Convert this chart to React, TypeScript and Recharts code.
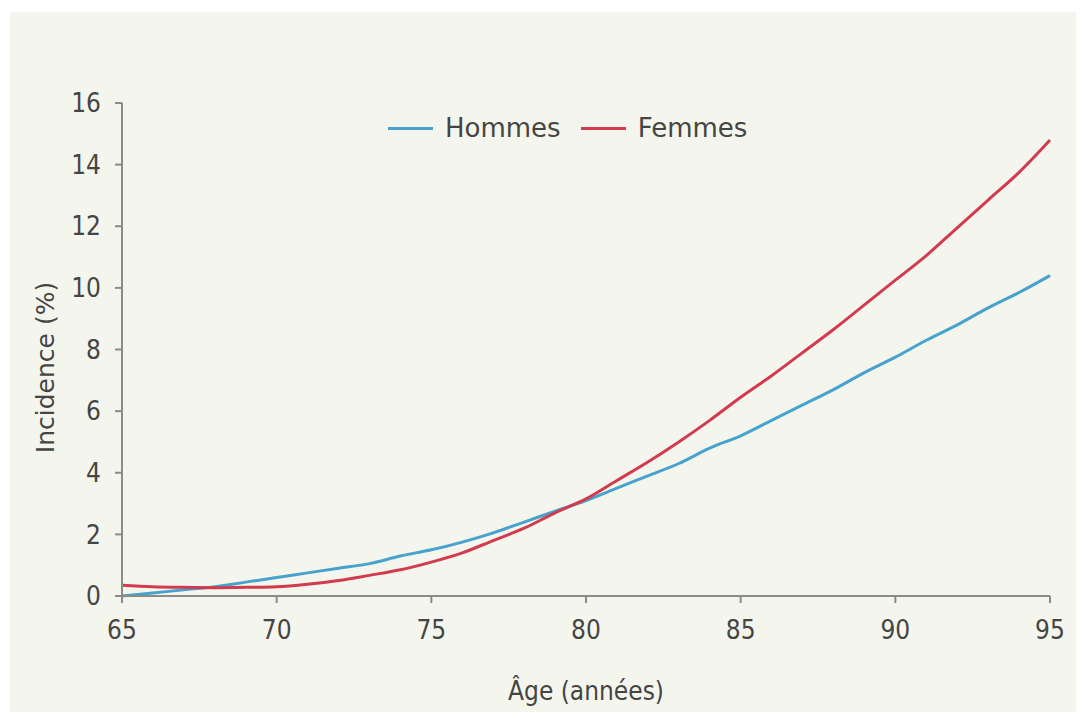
import { LineChart, Line, XAxis, YAxis, Label } from "recharts";

// ─── Data ─────────────────────────────────────────────────────────────────────

const ages = [
  65, 66, 67, 68, 69, 70, 71, 72, 73, 74, 75, 76, 77, 78, 79, 80,
  81, 82, 83, 84, 85, 86, 87, 88, 89, 90, 91, 92, 93, 94, 95,
];

const hommes = [
  0, 0.1, 0.2, 0.3, 0.45, 0.6, 0.75, 0.9, 1.05, 1.3, 1.5, 1.75, 2.05, 2.4, 2.75, 3.1,
  3.5, 3.9, 4.3, 4.8, 5.2, 5.7, 6.2, 6.7, 7.25, 7.75, 8.3, 8.8, 9.35, 9.85, 10.4,
];

const femmes = [
  0.35, 0.3, 0.28, 0.27, 0.28, 0.3, 0.38, 0.5, 0.67, 0.85, 1.1, 1.4, 1.8, 2.2, 2.7, 3.15,
  3.75, 4.35, 5.0, 5.7, 6.45, 7.15, 7.9, 8.65, 9.45, 10.25, 11.05, 11.95, 12.85, 13.75, 14.8,
];

const xTicks = [65, 70, 75, 80, 85, 90, 95];
const yTicks = [0, 2, 4, 6, 8, 10, 12, 14, 16];

const BLUE = "#47a2cd";
const RED = "#d23a4e";
const AXIS = "#8a8c86";
const TEXT = "#454543";
const FONT = "'DejaVu Sans Condensed', 'DejaVu Sans', sans-serif";
const WIDE_FONT = "'DejaVu Sans', sans-serif";

const chartData = ages.map((age, i) => ({
  age,
  hommes: hommes[i],
  femmes: femmes[i],
}));

// ─── Legend ───────────────────────────────────────────────────────────────────

function ChartLegend() {
  const items = [
    { label: "Hommes", color: BLUE },
    { label: "Femmes", color: RED },
  ];
  return (
    <div
      style={{
        position: "absolute",
        left: 388,
        top: 111,
        display: "flex",
        alignItems: "center",
        fontFamily: WIDE_FONT,
        fontSize: 26,
        lineHeight: "34px",
        color: TEXT,
      }}
    >
      {items.map((it) => (
        <div key={it.label} style={{ display: "flex", alignItems: "center", marginRight: 20 }}>
          <span style={{ display: "inline-block", width: 45, height: 3, background: it.color, marginRight: 12 }} />
          <span>{it.label}</span>
        </div>
      ))}
    </div>
  );
}

// ─── Component ────────────────────────────────────────────────────────────────

export default function App() {
  const tickStyle = { fontSize: 26, fill: TEXT, fontFamily: FONT };

  return (
    <div style={{ position: "fixed", left: 0, top: 0, width: 1084, height: 718, background: "#ffffff" }}>
      <div
        style={{
          position: "absolute",
          left: 10,
          top: 12,
          width: 1066,
          height: 700,
          background: "#f4f6ee",
        }}
      />
      <div style={{ position: "absolute", left: 0, top: 0 }}>
        <LineChart
          width={1084}
          height={718}
          data={chartData}
          margin={{ top: 103, right: 34, left: 62, bottom: 18 }}
        >
          <XAxis
            dataKey="age"
            type="number"
            domain={[65, 95]}
            ticks={xTicks}
            stroke={AXIS}
            strokeWidth={2}
            tickSize={7}
            tickMargin={18}
            tick={tickStyle}
            height={104}
          >
            <Label
              value="Âge (années)"
              position="insideBottom"
              offset={0}
              style={{ fontSize: 26, fill: TEXT, fontFamily: FONT }}
            />
          </XAxis>
          <YAxis
            domain={[0, 16]}
            ticks={yTicks}
            stroke={AXIS}
            strokeWidth={2}
            tickSize={7}
            tickMargin={14}
            tick={tickStyle}
            width={60}
          >
            <Label
              value="Incidence (%)"
              angle={-90}
              position="insideLeft"
              offset={-17}
              dy={18}
              style={{ fontSize: 25, fill: TEXT, fontFamily: WIDE_FONT, textAnchor: "middle" }}
            />
          </YAxis>
          <Line
            type="monotone"
            dataKey="hommes"
            stroke={BLUE}
            strokeWidth={3}
            dot={false}
            isAnimationActive={false}
          />
          <Line
            type="monotone"
            dataKey="femmes"
            stroke={RED}
            strokeWidth={3}
            dot={false}
            isAnimationActive={false}
          />
        </LineChart>
      </div>
      <ChartLegend />
    </div>
  );
}
